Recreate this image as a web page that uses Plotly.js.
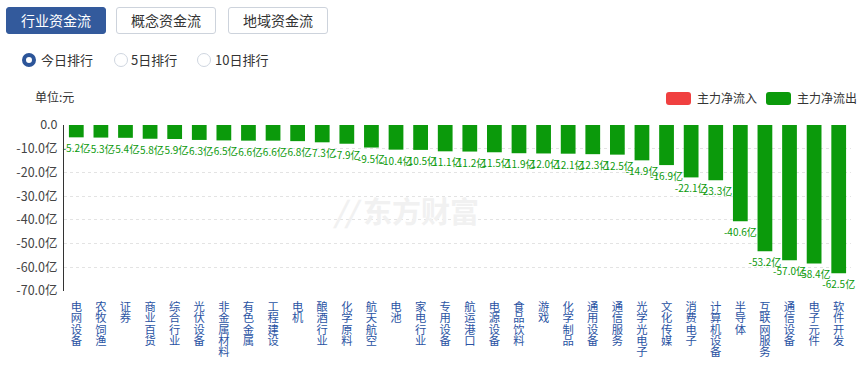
<!DOCTYPE html>
<html>
<head>
<meta charset="utf-8">
<script src="https://cdn.plot.ly/plotly-3.0.1.min.js"></script>
<style>
  html, body { margin:0; padding:0; background:#fff; width:866px; height:367px; overflow:hidden;
    font-family:"Noto Sans CJK SC","Microsoft YaHei",sans-serif; }
  .btn { position:absolute; top:7px; height:27px; width:100px; box-sizing:border-box;
    border:1px solid #cdd3dc; border-radius:3px; font-size:14px; color:#333; text-align:center;
    line-height:25px; background:#fff; }
  .btn.active { background:#335a9c; border-color:#335a9c; color:#fff; }
  .radio { position:absolute; top:53px; width:14px; height:14px; box-sizing:border-box; border-radius:50%;
    border:1px solid #cfd6e0; background:#fff; }
  .radio.on { border:4px solid #2c5599; }
  .rlab { position:absolute; top:51px; font-size:13px; color:#333; line-height:18px; }
  .over { z-index:3; }
  .unit { position:absolute; left:35px; top:88px; font-size:12px; color:#333; line-height:18px; }
  .leg { position:absolute; top:92px; width:25px; height:13px; border-radius:3px; }
  .legt { position:absolute; top:89px; font-size:12px; color:#333; line-height:18px; }
  .xl { position:absolute; z-index:3; width:14px; color:#2a53a3; transform:translateX(-50%); }
  .xl div { writing-mode:vertical-rl; text-orientation:upright; height:11.3px; width:14px;
    font-size:11.3px; line-height:14px; overflow:visible; }
  #chart { position:absolute; left:0; top:80px; width:866px; height:287px; z-index:1; }
</style>
</head>
<body>
<div class="btn active" style="left:6px;">行业资金流</div>
<div class="btn" style="left:116px;">概念资金流</div>
<div class="btn" style="left:228px;">地域资金流</div>

<div class="radio on" style="left:22px;"></div><div class="rlab" style="left:41px;">今日排行</div>
<div class="radio" style="left:114px;"></div><div class="rlab" style="left:131px;">5日排行</div>
<div class="radio" style="left:197px;"></div><div class="rlab" style="left:215px;">10日排行</div>

<div class="unit over">单位:元</div>
<div class="leg over" style="left:666px;background:#f04040;"></div><div class="legt over" style="left:697px;">主力净流入</div>
<div class="leg over" style="left:766px;background:#0b9a0b;"></div><div class="legt over" style="left:797px;">主力净流出</div>

<div id="chart"></div>
<script>
const categories = ["电网设备","农牧饲渔","证券","商业百货","综合行业","光伏设备","非金属材料","有色金属","工程建设","电机",
  "酿酒行业","化学原料","航天航空","电池","家电行业","专用设备","航运港口","电源设备","食品饮料","游戏",
  "化学制品","通用设备","通信服务","光学光电子","文化传媒","消费电子","计算机设备","半导体","互联网服务","通信设备",
  "电子元件","软件开发"];
const netOutflow = [-5.2,-5.3,-5.4,-5.8,-5.9,-6.3,-6.5,-6.6,-6.6,-6.8,
  -7.3,-7.9,-9.5,-10.4,-10.5,-11.1,-11.2,-11.5,-11.9,-12.0,
  -12.1,-12.3,-12.5,-14.9,-16.9,-22.1,-23.3,-40.6,-53.2,-57.0,
  -58.4,-62.5];
const yTickVals = [0,-10,-20,-30,-40,-50,-60,-70];
const yTickText = ["0.0","-10.0亿","-20.0亿","-30.0亿","-40.0亿","-50.0亿","-60.0亿","-70.0亿"];

const green = "#0b9a0b";
const font = "Noto Sans CJK SC, sans-serif";

const trace = {
  type:"bar", x:categories, y:netOutflow,
  marker:{color:green},
  text: netOutflow.map(v => v.toFixed(1) + "亿"),
  textposition:"outside", constraintext:"none", cliponaxis:false,
  textfont:{size:10, color:green, family:font},
  hoverinfo:"x+y", showlegend:false
};

const layout = {
  width:866, height:287,
  margin:{l:64, r:15, t:45, b:76},
  paper_bgcolor:"rgba(0,0,0,0)", plot_bgcolor:"rgba(0,0,0,0)",
  bargap:0.4,
  font:{family:font, color:"#333"},
  xaxis:{type:"category", showticklabels:false, showgrid:false, zeroline:false, showline:false, ticks:""},
  yaxis:{range:[-70,0], tickvals:yTickVals, ticktext:yTickText, showline:true, linecolor:"#333", linewidth:1,
    showgrid:true, gridcolor:"#e3e3e3", griddash:"dot", zeroline:false, ticks:"",
    ticklabelstandoff:3, tickfont:{size:12.5, color:"#444", family:font}},
  annotations:[{
    x:0.435, y:0.49, xref:"paper", yref:"paper", showarrow:false,
    text:"<b><i>//</i> 东方财富</b>", font:{size:29, color:"#f1f1f1", family:font}
  }],
  showlegend:false
};

Plotly.newPlot("chart", [trace], layout, {displayModeBar:false, staticPlot:true}).then(gd => {
  const xa = gd._fullLayout.xaxis, ya = gd._fullLayout.yaxis;
  const baseTop = 80 + ya._offset + ya._length + 10;
  categories.forEach((c, i) => {
    const d = document.createElement("div");
    d.className = "xl";
    d.style.left = (xa._offset + xa.l2p(i)) + "px";
    d.style.top = baseTop + "px";
    Array.from(c).forEach(ch => {
      const s = document.createElement("div");
      s.textContent = ch;
      d.appendChild(s);
    });
    document.body.appendChild(d);
  });
});
</script>
</body>
</html>
